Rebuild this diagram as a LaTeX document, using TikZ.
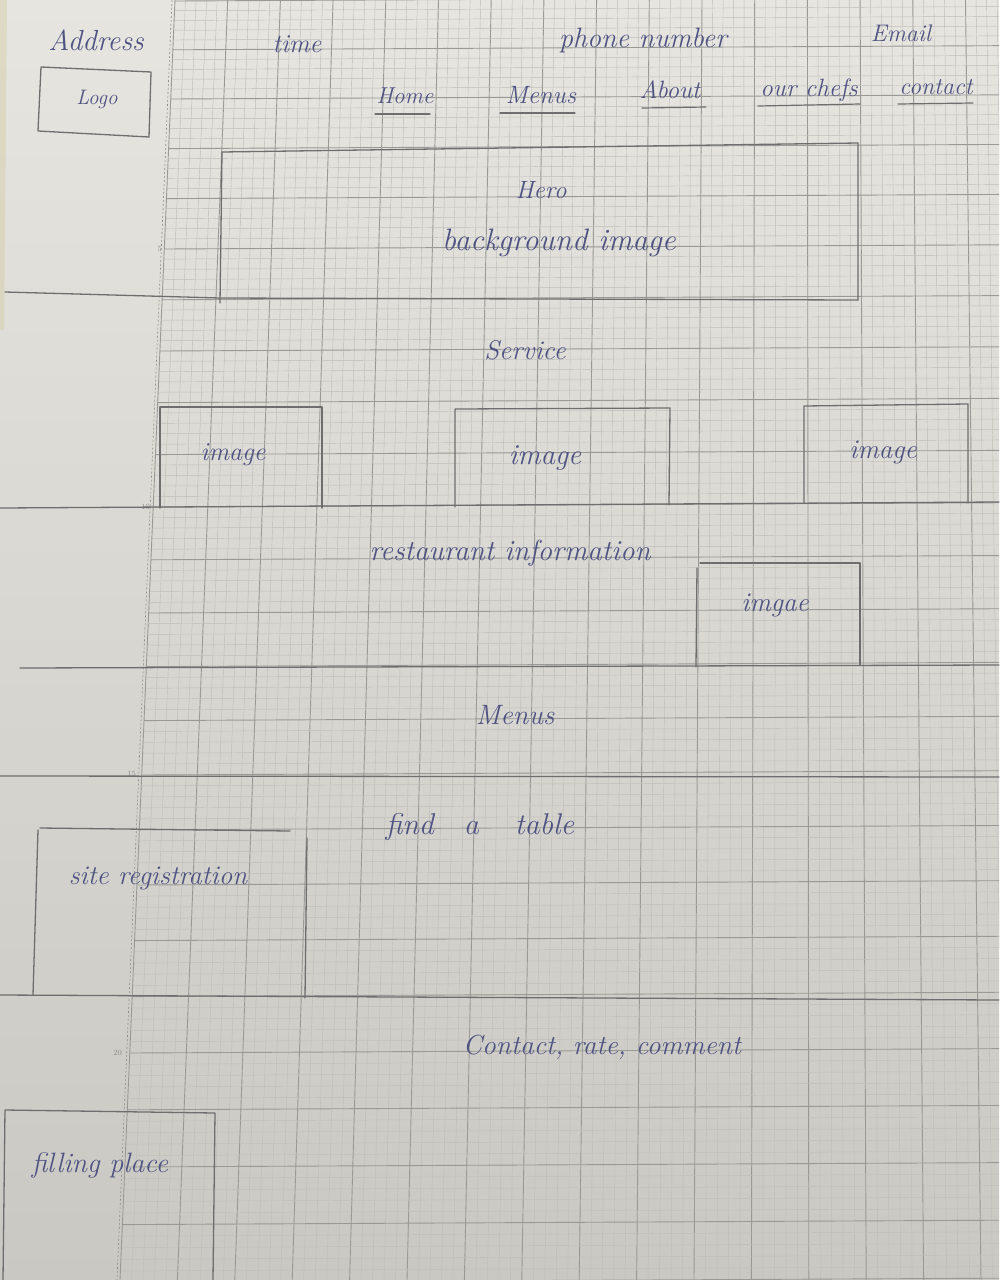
\documentclass[tikz,border=0pt]{standalone}
\usepackage{fontspec}
\begin{document}
\definecolor{paperA}{HTML}{E6E5DF}
\definecolor{paperB}{HTML}{C9C8C2}
\definecolor{paperedge}{HTML}{D6CCA4}
\definecolor{gridlight}{HTML}{BFBFBA}
\definecolor{griddark}{HTML}{999995}
\definecolor{ink}{HTML}{4F5282}
\definecolor{pencil}{HTML}{6E6E6E}
\definecolor{numgray}{HTML}{8C8C8A}
\tikzset{
  hand/.style={font=\fontsize{27}{30}\selectfont\itshape, text=ink, inner sep=0pt},
  hs/.style={font=\fontsize{#1}{#1}\selectfont\itshape},
  pencil/.style={draw=pencil, line width=1.3pt, line cap=round, line join=round},
  underline/.style={draw=pencil, line width=1.2pt, line cap=round},
  gridminor/.style={draw=gridlight, line width=0.45pt},
  gridmajor/.style={draw=griddark, line width=0.9pt},
  pagenum/.style={font=\fontsize{8}{8}\selectfont, text=numgray, inner sep=1pt, anchor=east},
}
\begin{tikzpicture}[x=1pt,y=-1pt]
\useasboundingbox (0,0) rectangle (999,1280);

% sheet of paper
\shade[top color=paperA, bottom color=paperB] (0,0) rectangle (999,1280);
\fill[paperedge, opacity=0.45] (0,0) -- (7,0) -- (4,330) -- (0,330) -- cycle;

% squared grid, slightly in perspective: 1 cm majors, 2 mm minors
\begin{scope}
  \clip (0,0) rectangle (999,1280);
  \foreach \m in {0,...,85} {
    \pgfmathsetmacro\xt{175+10.54*\m}
    \pgfmathsetmacro\xb{120+11.48*\m}
    \pgfmathtruncatemacro\r{mod(\m,5)}
    \ifnum\r=0
      \draw[gridmajor] (\xt,0) -- (\xb,1280);
    \else
      \draw[gridminor] (\xt,0) -- (\xb,1280);
    \fi
  }
  \foreach \j in {0,...,122} {
    \pgfmathsetmacro\k{\j/5}
    \pgfmathsetmacro\yl{1+48.6*\k+0.2*\k*\k}
    \pgfmathsetmacro\xm{175-0.04297*\yl}
    \pgfmathsetmacro\yr{\yl-0.005*(999-\xm)}
    \pgfmathtruncatemacro\r{mod(\j,5)}
    \ifnum\r=0
      \draw[gridmajor] (\xm,\yl) -- (999,\yr);
    \else
      \draw[gridminor] (\xm,\yl) -- (999,\yr);
    \fi
  }
  % dashed margin rule
  \draw[numgray, line width=0.6pt, dash pattern=on 2pt off 2pt] (172,0) -- (117,1280);
\end{scope}

% printed centimetre numbers on the margin
\node[pagenum] (n5) at (163,249) {5};
\node[pagenum] (n10) at (151,507) {10};
\node[pagenum] (n15) at (137,774) {15};
\node[pagenum] (n20) at (123,1053) {20};

% ---------- header ----------
\node[hand, hs=29] (address) at (96,40) {Address};
\node[hand, hs=26] (time) at (297,44) {time};
\node[hand, hs=28] (phone) at (643,40) {phone number};
\node[hand, hs=24] (email) at (901,33) {Email};

\draw[pencil] (41,67) -- (151,72) -- (149,137) -- (38,131) -- cycle;
\node[hand, hs=21] (logo) at (97,99) {Logo};

% navigation links
\node[hand, hs=23] (home) at (405,96) {Home};
\node[hand, hs=25] (menus) at (541,95) {Menus};
\node[hand, hs=25] (about) at (670,90) {About};
\node[hand, hs=25] (chefs) at (809,90) {our chefs};
\node[hand, hs=24] (contact) at (936,87) {contact};
\draw[underline] (375,114) -- (430,114);
\draw[underline] (500,113) -- (575,113);
\draw[underline] (642,108) -- (706,107);
\draw[underline] (758,106) -- (860,104);
\draw[underline] (898,104) -- (973,103);

% ---------- hero ----------
\draw[pencil] (222,152) -- (858,143) -- (858,300);
\draw[pencil] (222,152) -- (220,303);
\draw[pencil] (5,292) -- (220,298) -- (858,300);
\node[hand, hs=25] (hero) at (541,190) {Hero};
\node[hand, hs=31] (heroimg) at (559,243) {background image};

% ---------- service ----------
\node[hand, hs=27] (service) at (525,350) {Service};
\draw[pencil] (160,508) -- (160,407) -- (322,407) -- (322,508);
\draw[pencil] (455,507) -- (455,409) -- (670,408) -- (669,505);
\draw[pencil] (804,503) -- (804,406) -- (968,404) -- (968,503);
\draw[pencil] (0,508) -- (999,502);
\node[hand, hs=26] (img1) at (233,455) {image};
\node[hand, hs=29] (img2) at (545,458) {image};
\node[hand, hs=27] (img3) at (883,452) {image};

% ---------- restaurant information ----------
\node[hand, hs=29] (resto) at (510,553) {restaurant information};
\draw[pencil] (697,568) -- (696,667);
\draw[pencil] (700,563) -- (860,563) -- (860,665);
\draw[pencil] (20,668) -- (999,665);
\node[hand, hs=27] (img4) at (775,605) {imgae};

% ---------- menus ----------
\node[hand, hs=28] (menusec) at (515,715) {Menus};
\draw[pencil] (0,776) -- (999,777);

% ---------- find a table / registration ----------
\node[hand, hs=30] (table) at (480,827) {find\hspace{1em}a\hspace{1.2em}table};
\draw[pencil] (40,828) -- (290,831);
\draw[pencil] (38,830) -- (33,995);
\draw[pencil] (307,838) -- (305,998);
\draw[pencil] (0,995) -- (999,1000);
\node[hand, hs=27] (register) at (158,878) {site registration};

% ---------- contact ----------
\node[hand, hs=27.5] (feedback) at (602,1047) {Contact, rate, comment};
\draw[pencil] (3,1280) -- (5,1110) -- (215,1113) -- (213,1280);
\node[hand, hs=28] (filling) at (100,1165) {filling place};

\end{tikzpicture}
\end{document}
